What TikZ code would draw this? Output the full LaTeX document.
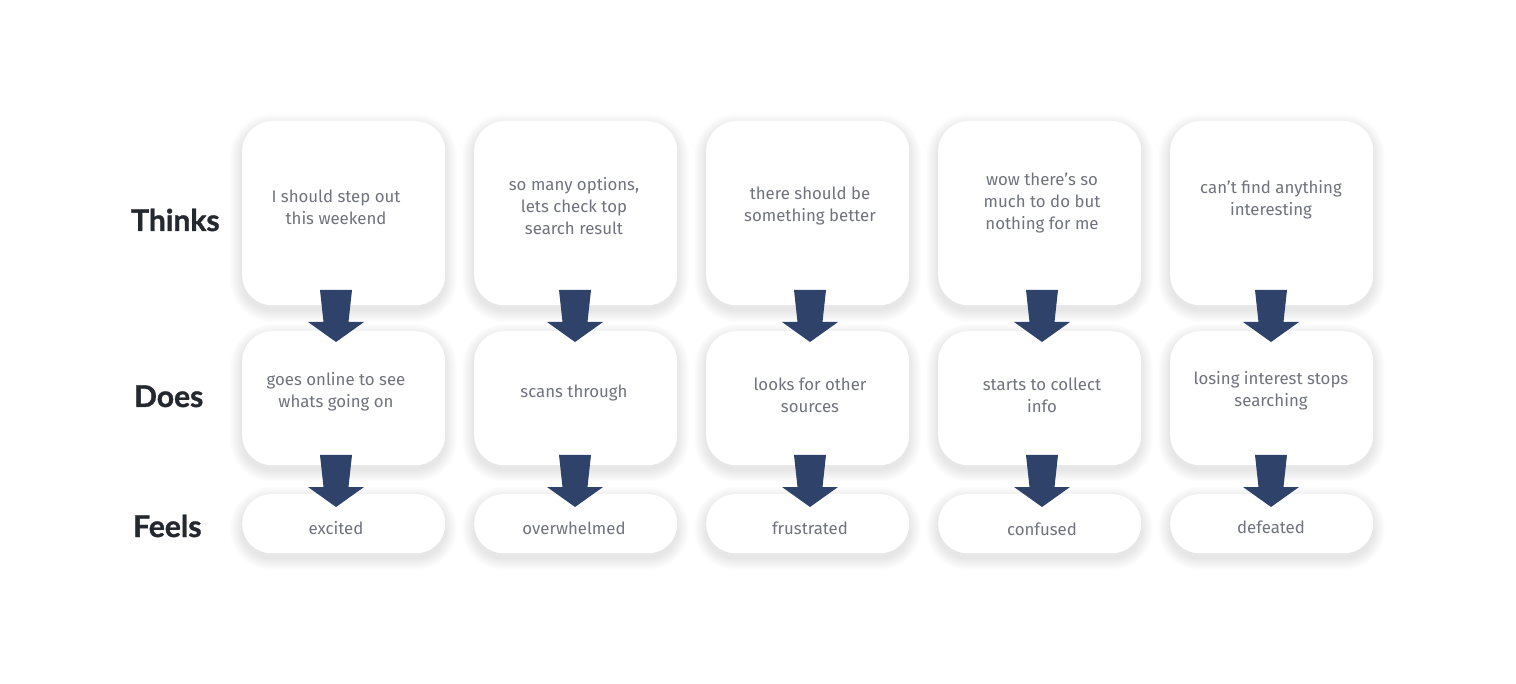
\documentclass[tikz,border=0pt]{standalone}
\usepackage{fontspec}
\setmainfont{Fira Sans}
\newfontfamily\labelfont{Lato}[BoldFeatures={FakeBold=1.2}]
\definecolor{txtgray}{HTML}{70737D}
\definecolor{labeldark}{HTML}{24282F}
\definecolor{navy}{HTML}{2F4269}
\begin{document}
\begin{tikzpicture}[x=1pt,y=-1pt,
  card/.style={fill=white, draw=none, rounded corners=30pt, inner sep=0pt, minimum width=203pt},
  cardtext/.style={text=txtgray, font=\fontsize{16.8}{22}\selectfont, align=center, inner sep=0pt},
  rowlabel/.style={text=labeldark, font=\labelfont\bfseries\fontsize{30}{30}\selectfont, anchor=base west, inner sep=0pt},
  flowarrow/.style={fill=navy, draw=none}]
\fill[white] (0,0) rectangle (1516,684);
\useasboundingbox (0,0) rectangle (1516,684);

% soft shadows under the cards
\foreach \x in {242,474,706,938,1170}{
  \foreach \ya/\yb/\r in {121/305/30, 331/465/30, 494/553/29}{
    \foreach \s in {1,...,12}{
      \fill[black, opacity=0.008, rounded corners={(\r+\s)*1pt}]
        (\x-\s, \ya-\s+5) rectangle (\x+203+\s, \yb+\s+5);
    }
  }
}

% cards
\foreach \i/\x in {1/242,2/474,3/706,4/938,5/1170}{
  \node[card, minimum height=184pt, anchor=north west] (ct\i) at (\x,121) {};
  \node[card, minimum height=134pt, anchor=north west] (cd\i) at (\x,331) {};
  \node[card, minimum height=59pt, rounded corners=29pt, anchor=north west] (cf\i) at (\x,494) {};
}

% row labels
\node[rowlabel] (lthinks) at (131,231) {Thinks};
\node[rowlabel] (ldoes) at (134,407) {Does};
\node[rowlabel] (lfeels) at (133,537) {Feels};

% thinks
\node[cardtext] (t1) at (336,207) {I should step out\\this weekend};
\node[cardtext] (t2) at (574,206) {so many options,\\lets check top\\search result};
\node[cardtext] (t3) at (810,206) {there should be\\something better};
\node[cardtext] (t4) at (1042,203) {wow there’s so\\much to do but\\nothing for me};
\node[cardtext] (t5) at (1271,200) {can’t find anything\\interesting};

% does
\node[cardtext] (d1) at (336,392) {goes online to see\\whats going on};
\node[cardtext] (d2) at (574,393) {scans through};
\node[cardtext] (d3) at (810,395) {looks for other\\sources};
\node[cardtext] (d4) at (1042,395) {starts to collect\\info};
\node[cardtext] (d5) at (1271,391) {losing interest stops\\searching};

% feels
\node[cardtext] (f1) at (336,528) {excited};
\node[cardtext] (f2) at (574,528) {overwhelmed};
\node[cardtext] (f3) at (810,528) {frustrated};
\node[cardtext] (f4) at (1042,529) {confused};
\node[cardtext] (f5) at (1271,527) {defeated};

% block arrows between the rows
\foreach \i/\cx in {1/336,2/575,3/810,4/1042,5/1271}{
  \coordinate (ta\i) at (\cx,342);
  \coordinate (tb\i) at (\cx,507);
  \foreach \tip in {ta\i,tb\i}{
    \fill[flowarrow] ([xshift=-16pt,yshift=52pt]\tip) -- ([xshift=16pt,yshift=52pt]\tip)
      -- ([xshift=12.5pt,yshift=20pt]\tip) -- ([xshift=28pt,yshift=20pt]\tip)
      -- (\tip) -- ([xshift=-28pt,yshift=20pt]\tip)
      -- ([xshift=-12.5pt,yshift=20pt]\tip) -- cycle;
  }
}
\end{tikzpicture}
\end{document}
